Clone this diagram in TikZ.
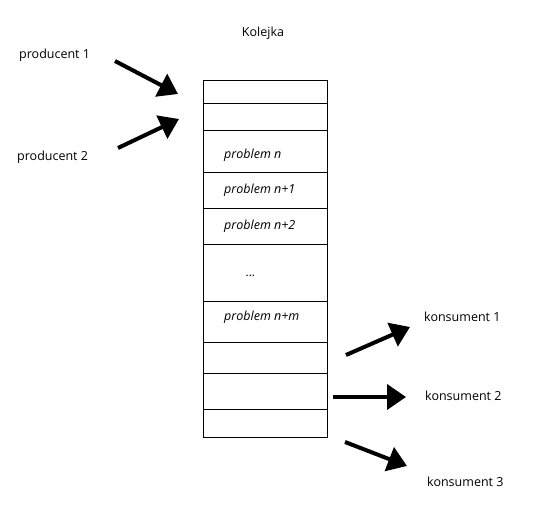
\documentclass[tikz,border=0pt]{standalone}
\usepackage{fontspec}
\setmainfont{Open Sans}
\usetikzlibrary{arrows.meta}
\tikzset{
	label/.style={font=\fontsize{12.5}{15}\selectfont, inner sep=0pt},
	cell/.style={font=\fontsize{12.5}{15}\selectfont\itshape, inner sep=0pt, anchor=west},
	bigarrow/.style={line width=4pt, -{Triangle[length=19pt, width=25pt]}}
}
\begin{document}
\begin{tikzpicture}[x=1pt, y=-1pt]
	
	\useasboundingbox (0,0) rectangle (539,524);
	
	% kolejka
	\node[label] (kolejka) at (263,33) {Kolejka};
	\draw[line width=1pt] (203,81) rectangle (327,437);
	\foreach \y in {104,131,173,209,245,302,342,373,409}
		\draw[line width=1pt] (203,\y) -- (327,\y);
	
	\node[cell] (pn) at (224,155) {problem n};
	\node[cell] (pn1) at (224,190) {problem n+1};
	\node[cell] (pn2) at (224,226) {problem n+2};
	\node[cell] (dots) at (246,276) {...};
	\node[cell] (pnm) at (224,317) {problem n+m};
	
	% producenci
	\node[label, anchor=west] (prod1) at (19,55) {producent 1};
	\node[label, anchor=west] (prod2) at (17,157) {producent 2};
	\coordinate (p1a) at (115,61);
	\coordinate (p1b) at (178,94);
	\coordinate (p2a) at (118,148);
	\coordinate (p2b) at (179,119);
	\draw[bigarrow] (p1a) -- (p1b);
	\draw[bigarrow] (p2a) -- (p2b);
	
	% konsumenci
	\node[label, anchor=west] (kons1) at (424,317) {konsument 1};
	\node[label, anchor=west] (kons2) at (425,396) {konsument 2};
	\node[label, anchor=west] (kons3) at (427,482) {konsument 3};
	\coordinate (k1a) at (346,355);
	\coordinate (k1b) at (410,327);
	\coordinate (k2a) at (333,397);
	\coordinate (k2b) at (406,397);
	\coordinate (k3a) at (345,442);
	\coordinate (k3b) at (407,466);
	\draw[bigarrow] (k1a) -- (k1b);
	\draw[bigarrow] (k2a) -- (k2b);
	\draw[bigarrow] (k3a) -- (k3b);
	
\end{tikzpicture}
\end{document}
